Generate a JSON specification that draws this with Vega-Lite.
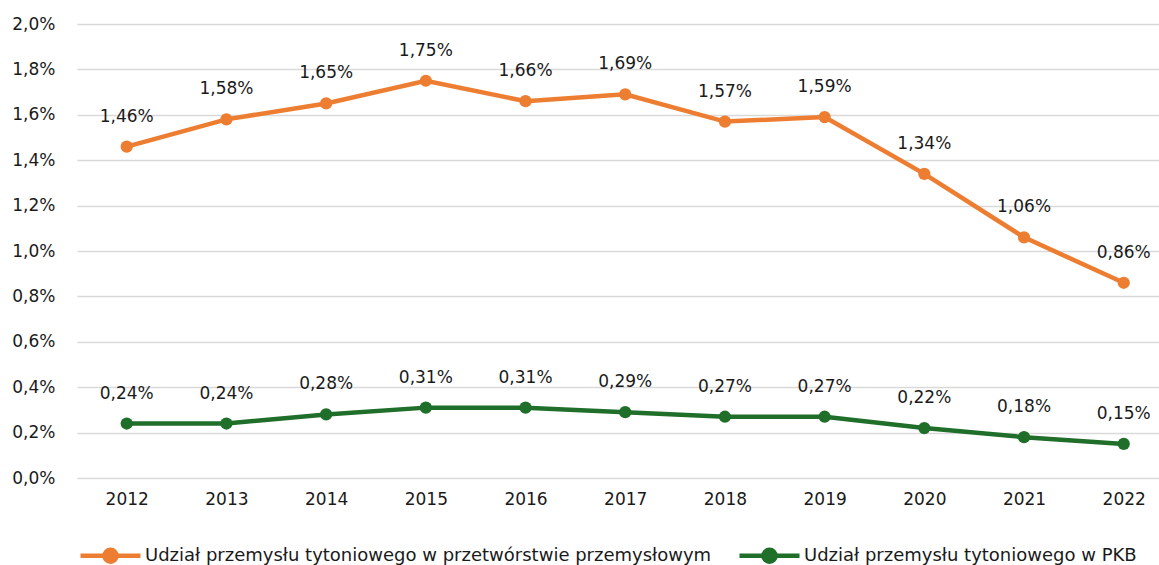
{
  "$schema": "https://vega.github.io/schema/vega-lite/v6.json",
  "autosize": "none",
  "width": 1082,
  "height": 454,
  "padding": {"left": 77, "top": 24, "right": 0, "bottom": 87},
  "background": "white",
  "config": {
    "locale": {"number": {"decimal": ",", "thousands": " ", "grouping": [3], "currency": ["", " zł"]}},
    "font": "DejaVu Sans",
    "view": {"stroke": null},
    "axis": {"labelFontSize": 17, "labelColor": "#1a1a1a", "domain": false, "ticks": false, "title": null, "gridColor": "#d9d9d9", "gridWidth": 1.5, "labelFont": "DejaVu Sans", "labelOverlap": false},
    "legend": {"labelFontSize": 18, "labelColor": "#1a1a1a", "labelFont": "DejaVu Sans", "labelLimit": 0}
  },
  "data": {"values": [
    {"rok": "2012", "seria": "Udział przemysłu tytoniowego w przetwórstwie przemysłowym", "v": 0.0146},
    {"rok": "2013", "seria": "Udział przemysłu tytoniowego w przetwórstwie przemysłowym", "v": 0.0158},
    {"rok": "2014", "seria": "Udział przemysłu tytoniowego w przetwórstwie przemysłowym", "v": 0.0165},
    {"rok": "2015", "seria": "Udział przemysłu tytoniowego w przetwórstwie przemysłowym", "v": 0.0175},
    {"rok": "2016", "seria": "Udział przemysłu tytoniowego w przetwórstwie przemysłowym", "v": 0.0166},
    {"rok": "2017", "seria": "Udział przemysłu tytoniowego w przetwórstwie przemysłowym", "v": 0.0169},
    {"rok": "2018", "seria": "Udział przemysłu tytoniowego w przetwórstwie przemysłowym", "v": 0.0157},
    {"rok": "2019", "seria": "Udział przemysłu tytoniowego w przetwórstwie przemysłowym", "v": 0.0159},
    {"rok": "2020", "seria": "Udział przemysłu tytoniowego w przetwórstwie przemysłowym", "v": 0.0134},
    {"rok": "2021", "seria": "Udział przemysłu tytoniowego w przetwórstwie przemysłowym", "v": 0.0106},
    {"rok": "2022", "seria": "Udział przemysłu tytoniowego w przetwórstwie przemysłowym", "v": 0.0086},
    {"rok": "2012", "seria": "Udział przemysłu tytoniowego w PKB", "v": 0.0024},
    {"rok": "2013", "seria": "Udział przemysłu tytoniowego w PKB", "v": 0.0024},
    {"rok": "2014", "seria": "Udział przemysłu tytoniowego w PKB", "v": 0.0028},
    {"rok": "2015", "seria": "Udział przemysłu tytoniowego w PKB", "v": 0.0031},
    {"rok": "2016", "seria": "Udział przemysłu tytoniowego w PKB", "v": 0.0031},
    {"rok": "2017", "seria": "Udział przemysłu tytoniowego w PKB", "v": 0.0029},
    {"rok": "2018", "seria": "Udział przemysłu tytoniowego w PKB", "v": 0.0027},
    {"rok": "2019", "seria": "Udział przemysłu tytoniowego w PKB", "v": 0.0027},
    {"rok": "2020", "seria": "Udział przemysłu tytoniowego w PKB", "v": 0.0022},
    {"rok": "2021", "seria": "Udział przemysłu tytoniowego w PKB", "v": 0.0018},
    {"rok": "2022", "seria": "Udział przemysłu tytoniowego w PKB", "v": 0.0015}
  ]},
  "encoding": {
    "x": {"field": "rok", "type": "ordinal", "scale": {"type": "point", "padding": 0.4263, "align": 0.585}, "axis": {"labelAngle": 0, "grid": false, "labelPadding": 13}},
    "y": {"field": "v", "type": "quantitative", "scale": {"domain": [0, 0.02], "nice": false}, "axis": {"format": ".1%", "values": [0, 0.002, 0.004, 0.006, 0.008, 0.01, 0.012, 0.014, 0.016, 0.018, 0.02], "labelPadding": 22}}
  },
  "layer": [
    {
      "mark": {"type": "line", "strokeWidth": 4.5},
      "encoding": {
        "color": {"field": "seria", "type": "nominal", "sort": null,
          "scale": {"domain": ["Udział przemysłu tytoniowego w przetwórstwie przemysłowym", "Udział przemysłu tytoniowego w PKB"], "range": ["#ed7d31", "#1f6e29"]},
          "legend": {"title": null, "orient": "none", "legendX": 1, "legendY": 499, "direction": "horizontal",
            "symbolType": "M-1,0L1,0M0.2,0A0.2,0.2,0,1,1,-0.2,0A0.2,0.2,0,1,1,0.2,0Z",
            "symbolSize": 3600, "symbolStrokeWidth": 4.5, "labelOffset": 2, "columnPadding": 18}}
      }
    },
    {
      "mark": {"type": "point", "filled": true, "size": 150, "opacity": 1},
      "encoding": {
        "color": {"field": "seria", "type": "nominal", "sort": null}
      }
    },
    {
      "mark": {"type": "text", "dy": -30, "fontSize": 17, "color": "#1a1a1a", "font": "DejaVu Sans"},
      "encoding": {"text": {"field": "v", "type": "quantitative", "format": ".2%"}}
    }
  ]
}
